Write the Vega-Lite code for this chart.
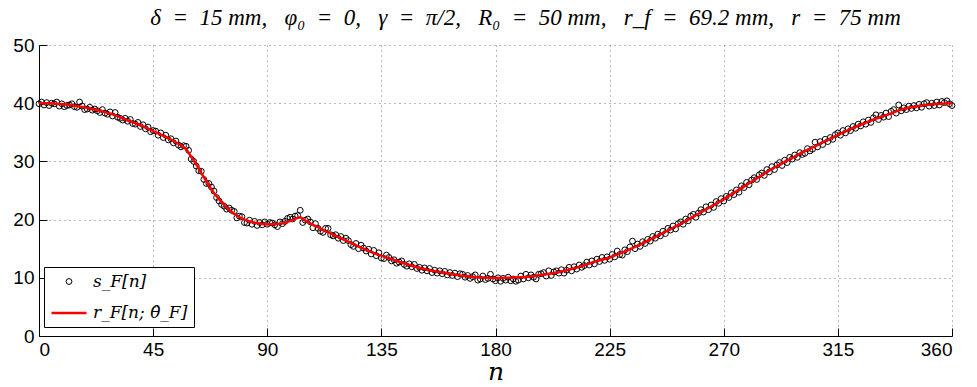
{
  "$schema": "https://vega.github.io/schema/vega-lite/v6.json",
  "autosize": "none",
  "width": 913,
  "height": 291,
  "padding": {"left": 39, "top": 45, "right": 25, "bottom": 51},
  "background": "white",
  "config": {
    "view": {"stroke": null},
    "axis": {
      "labelFont": "Liberation Sans",
      "labelFontSize": 19,
      "labelColor": "black",
      "domainColor": "black",
      "domainWidth": 1,
      "tickColor": "black",
      "tickSize": -8,
      "tickWidth": 1,
      "labelPadding": 12,
      "gridColor": "#777777",
      "gridDash": [1, 4],
      "gridWidth": 1
    }
  },
  "title": {
    "text": "δ\u00a0\u00a0=\u00a0\u00a015 mm,\u00a0\u00a0\u00a0φ₀\u00a0\u00a0=\u00a0\u00a00,\u00a0\u00a0\u00a0γ\u00a0\u00a0=\u00a0\u00a0π/2,\u00a0\u00a0\u00a0R₀\u00a0\u00a0=\u00a0\u00a050 mm,\u00a0\u00a0\u00a0r_f\u00a0\u00a0=\u00a0\u00a069.2 mm,\u00a0\u00a0\u00a0r\u00a0\u00a0=\u00a0\u00a075 mm",
    "font": "Liberation Serif",
    "fontStyle": "italic",
    "fontWeight": "normal",
    "fontSize": 23,
    "color": "black",
    "anchor": "middle",
    "dx": 30,
    "offset": 6
  },
  "data": {
    "values": [
      {"n":0,"s":39.9,"r":40.0},{"n":1,"s":40.2},{"n":2,"s":39.7,"r":39.99},{"n":3,"s":40.1},{"n":4,"s":39.6,"r":39.96},{"n":5,"s":40.0},{"n":6,"s":39.9,"r":39.93},{"n":7,"s":40.2},{"n":8,"s":39.5,"r":39.87},{"n":9,"s":39.9},
      {"n":10,"s":39.4,"r":39.8},{"n":11,"s":39.6},{"n":12,"s":39.7,"r":39.7},{"n":13,"s":39.9},{"n":14,"s":39.4,"r":39.57},{"n":15,"s":39.3},{"n":16,"s":40.2,"r":39.43},{"n":17,"s":39.5},{"n":18,"s":38.9,"r":39.27},{"n":19,"s":39.0},
      {"n":20,"s":39.3,"r":39.1},{"n":21,"s":38.8},{"n":22,"s":39.0,"r":38.9},{"n":23,"s":38.7},{"n":24,"s":38.4,"r":38.7},{"n":25,"s":38.9},{"n":26,"s":38.3,"r":38.47},{"n":27,"s":38.1},{"n":28,"s":38.5,"r":38.2},{"n":29,"s":37.8},
      {"n":30,"s":38.4,"r":37.9},{"n":31,"s":37.6},{"n":32,"s":37.4,"r":37.57},{"n":33,"s":37.1},{"n":34,"s":37.4,"r":37.22},{"n":35,"s":36.9},{"n":36,"s":37.2,"r":36.88},{"n":37,"s":36.5},{"n":38,"s":36.4,"r":36.55},{"n":39,"s":36.7},
      {"n":40,"s":36.0,"r":36.2},{"n":41,"s":36.3},{"n":42,"s":35.6,"r":35.8},{"n":43,"s":35.9},{"n":44,"s":35.1,"r":35.4},{"n":45,"s":35.3},{"n":46,"s":35.2,"r":35.0},{"n":47,"s":34.5},{"n":48,"s":34.9,"r":34.6},{"n":49,"s":34.1},
      {"n":50,"s":34.5,"r":34.2},{"n":51,"s":33.7},{"n":52,"s":33.9,"r":33.75},{"n":53,"s":33.2},{"n":54,"s":33.5,"r":33.25},{"n":55,"s":32.8},{"n":56,"s":32.5,"r":32.75},{"n":57,"s":32.7},{"n":58,"s":32.6,"r":32.1},{"n":59,"s":31.9},
      {"n":60,"s":30.4,"r":30.8},{"n":61,"s":30.0},{"n":62,"s":29.2,"r":29.5},{"n":63,"s":28.4},{"n":64,"s":28.3,"r":28.0},{"n":65,"s":26.9},{"n":66,"s":26.2,"r":26.6},{"n":67,"s":26.2},{"n":68,"s":25.6,"r":25.2},{"n":69,"s":24.9},
      {"n":70,"s":23.8,"r":24.0},{"n":71,"s":23.2},{"n":72,"s":22.6,"r":23.0},{"n":73,"s":22.3},{"n":74,"s":21.8,"r":22.1},{"n":75,"s":22.0},{"n":76,"s":21.6,"r":21.3},{"n":77,"s":21.4},{"n":78,"s":20.3,"r":20.7},{"n":79,"s":20.6},
      {"n":80,"s":20.5,"r":20.2},{"n":81,"s":19.5},{"n":82,"s":19.4,"r":19.85},{"n":83,"s":19.9},{"n":84,"s":19.2,"r":19.6},{"n":85,"s":19.7},{"n":86,"s":19.0,"r":19.4},{"n":87,"s":19.5},{"n":88,"s":19.1,"r":19.25},{"n":89,"s":19.6},
      {"n":90,"s":19.2,"r":19.2},{"n":91,"s":19.5},{"n":92,"s":19.4,"r":19.2},{"n":93,"s":19.1},{"n":94,"s":18.8,"r":19.25},{"n":95,"s":19.6},{"n":96,"s":19.3,"r":19.35},{"n":97,"s":19.7},{"n":98,"s":20.2,"r":19.6},{"n":99,"s":20.4},
      {"n":100,"s":20.1,"r":19.9},{"n":101,"s":20.6},{"n":102,"s":20.7,"r":20.3},{"n":103,"s":21.6,"r":20.4},{"n":104,"s":19.5,"r":20.1},{"n":105,"s":19.9},{"n":106,"s":20.1,"r":19.6},{"n":107,"s":19.6},{"n":108,"s":18.6,"r":19.1},{"n":109,"s":19.3},
      {"n":110,"s":18.5,"r":18.7},{"n":111,"s":18.0},{"n":112,"s":17.8,"r":18.2},{"n":113,"s":18.5},{"n":114,"s":18.5,"r":17.8},{"n":115,"s":17.4},{"n":116,"s":17.2,"r":17.4},{"n":117,"s":17.4},{"n":118,"s":16.8,"r":17.0},{"n":119,"s":17.1},
      {"n":120,"s":16.4,"r":16.6},{"n":121,"s":16.8},{"n":122,"s":16.4,"r":16.2},{"n":123,"s":15.7},{"n":124,"s":15.4,"r":15.8},{"n":125,"s":15.9},{"n":126,"s":15.0,"r":15.35},{"n":127,"s":15.6},{"n":128,"s":15.1,"r":15.0},{"n":129,"s":14.6},
      {"n":130,"s":14.9,"r":14.6},{"n":131,"s":14.1},{"n":132,"s":14.7,"r":14.25},{"n":133,"s":13.8},{"n":134,"s":14.3,"r":13.95},{"n":135,"s":13.4},{"n":136,"s":13.3,"r":13.65},{"n":137,"s":13.9},{"n":138,"s":13.5,"r":13.35},{"n":139,"s":12.9},
      {"n":140,"s":13.1,"r":13.05},{"n":141,"s":12.5},{"n":142,"s":12.7,"r":12.75},{"n":143,"s":12.9},{"n":144,"s":12.3,"r":12.45},{"n":145,"s":12.0},{"n":146,"s":12.4,"r":12.2},{"n":147,"s":11.9},{"n":148,"s":12.3,"r":11.95},{"n":149,"s":11.6},
      {"n":150,"s":11.8,"r":11.7},{"n":151,"s":11.3},{"n":152,"s":11.7,"r":11.5},{"n":153,"s":11.2},{"n":154,"s":11.6,"r":11.3},{"n":155,"s":10.9},{"n":156,"s":11.3,"r":11.15},{"n":157,"s":10.8},{"n":158,"s":11.2,"r":11.0},{"n":159,"s":10.7},
      {"n":160,"s":11.1,"r":10.85},{"n":161,"s":10.5},{"n":162,"s":10.9,"r":10.7},{"n":163,"s":10.4},{"n":164,"s":10.8,"r":10.55},{"n":165,"s":10.2},{"n":166,"s":10.7,"r":10.4},{"n":167,"s":10.6},{"n":168,"s":10.1,"r":10.3},{"n":169,"s":10.4},
      {"n":170,"s":9.9,"r":10.2},{"n":171,"s":10.2},{"n":172,"s":10.5,"r":10.1},{"n":173,"s":9.6},{"n":174,"s":9.8,"r":10.05},{"n":175,"s":10.3},{"n":176,"s":9.7,"r":10.0},{"n":177,"s":9.9},{"n":178,"s":10.6,"r":9.97},{"n":179,"s":9.8},
      {"n":180,"s":9.5,"r":9.95},{"n":181,"s":10.0},{"n":182,"s":9.4,"r":9.97},{"n":183,"s":9.9},{"n":184,"s":9.6,"r":10.0},{"n":185,"s":10.1},{"n":186,"s":9.5,"r":10.03},{"n":187,"s":9.8},{"n":188,"s":9.4,"r":10.07},{"n":189,"s":9.6},
      {"n":190,"s":10.3,"r":10.1},{"n":191,"s":9.8},{"n":192,"s":10.6,"r":10.15},{"n":193,"s":10.0},{"n":194,"s":10.5,"r":10.25},{"n":195,"s":10.1},{"n":196,"s":9.8,"r":10.35},{"n":197,"s":10.6},{"n":198,"s":10.7,"r":10.5},{"n":199,"s":10.9},
      {"n":200,"s":10.3,"r":10.6},{"n":201,"s":11.2},{"n":202,"s":10.4,"r":10.75},{"n":203,"s":11.0},{"n":204,"s":11.2,"r":10.9},{"n":205,"s":10.8},{"n":206,"s":11.4,"r":11.1},{"n":207,"s":10.8},{"n":208,"s":11.3,"r":11.3},{"n":209,"s":11.8},
      {"n":210,"s":11.2,"r":11.5},{"n":211,"s":11.9},{"n":212,"s":11.5,"r":11.75},{"n":213,"s":12.2},{"n":214,"s":11.8,"r":12.0},{"n":215,"s":12.1},{"n":216,"s":12.7,"r":12.3},{"n":217,"s":12.2},{"n":218,"s":12.9,"r":12.6},{"n":219,"s":12.4},
      {"n":220,"s":13.2,"r":12.9},{"n":221,"s":12.8},{"n":222,"s":13.5,"r":13.1},{"n":223,"s":13.0},{"n":224,"s":13.6,"r":13.35},{"n":225,"s":13.2},{"n":226,"s":14.0,"r":13.65},{"n":227,"s":13.6},{"n":228,"s":14.6,"r":14.0},{"n":229,"s":14.0},
      {"n":230,"s":13.9,"r":14.35},{"n":231,"s":14.8},{"n":232,"s":14.5,"r":14.7},{"n":233,"s":15.3},{"n":234,"s":16.3,"r":15.1},{"n":235,"s":15.0},{"n":236,"s":15.8,"r":15.5},{"n":237,"s":15.4},{"n":238,"s":16.2,"r":15.9},{"n":239,"s":15.9},
      {"n":240,"s":16.6,"r":16.35},{"n":241,"s":16.3},{"n":242,"s":17.1,"r":16.8},{"n":243,"s":16.8},{"n":244,"s":17.5,"r":17.25},{"n":245,"s":17.2},{"n":246,"s":18.0,"r":17.7},{"n":247,"s":17.6},{"n":248,"s":18.5,"r":18.15},{"n":249,"s":18.2},
      {"n":250,"s":18.9,"r":18.6},{"n":251,"s":18.4},{"n":252,"s":19.3,"r":19.05},{"n":253,"s":19.6},{"n":254,"s":19.2,"r":19.5},{"n":255,"s":20.1},{"n":256,"s":19.8,"r":20.0},{"n":257,"s":20.6},{"n":258,"s":20.9,"r":20.5},{"n":259,"s":20.4},
      {"n":260,"s":21.1,"r":21.0},{"n":261,"s":21.7},{"n":262,"s":21.3,"r":21.5},{"n":263,"s":22.2},{"n":264,"s":21.7,"r":22.0},{"n":265,"s":22.5},{"n":266,"s":22.1,"r":22.5},{"n":267,"s":23.1},{"n":268,"s":22.8,"r":23.0},{"n":269,"s":23.6},
      {"n":270,"s":23.2,"r":23.5},{"n":271,"s":24.0},{"n":272,"s":23.8,"r":24.05},{"n":273,"s":24.6},{"n":274,"s":24.3,"r":24.6},{"n":275,"s":25.1},{"n":276,"s":24.7,"r":25.15},{"n":277,"s":25.8},{"n":278,"s":25.5,"r":25.7},{"n":279,"s":26.4},
      {"n":280,"s":26.0,"r":26.25},{"n":281,"s":26.8},{"n":282,"s":27.2,"r":26.8},{"n":283,"s":26.9},{"n":284,"s":27.7,"r":27.35},{"n":285,"s":28.0},{"n":286,"s":27.6,"r":27.9},{"n":287,"s":28.6},{"n":288,"s":28.2,"r":28.45},{"n":289,"s":29.1},
      {"n":290,"s":28.6,"r":28.95},{"n":291,"s":29.4},{"n":292,"s":29.8,"r":29.4},{"n":293,"s":29.3},{"n":294,"s":30.2,"r":29.9},{"n":295,"s":29.8},{"n":296,"s":30.7,"r":30.35},{"n":297,"s":30.4},{"n":298,"s":31.1,"r":30.8},{"n":299,"s":30.7},
      {"n":300,"s":31.5,"r":31.3},{"n":301,"s":31.2},{"n":302,"s":31.4,"r":31.75},{"n":303,"s":32.2},{"n":304,"s":31.8,"r":32.2},{"n":305,"s":32.1},{"n":306,"s":33.3,"r":32.6},{"n":307,"s":32.5},{"n":308,"s":33.4,"r":33.05},{"n":309,"s":32.9},
      {"n":310,"s":33.8,"r":33.5},{"n":311,"s":33.4},{"n":312,"s":34.1,"r":33.9},{"n":313,"s":33.8},{"n":314,"s":34.6,"r":34.35},{"n":315,"s":34.9},{"n":316,"s":34.5,"r":34.75},{"n":317,"s":35.3},{"n":318,"s":34.9,"r":35.15},{"n":319,"s":35.6},
      {"n":320,"s":35.3,"r":35.55},{"n":321,"s":36.0},{"n":322,"s":35.7,"r":35.95},{"n":323,"s":36.4},{"n":324,"s":36.1,"r":36.3},{"n":325,"s":36.8},{"n":326,"s":36.4,"r":36.65},{"n":327,"s":37.1},{"n":328,"s":36.7,"r":37.0},{"n":329,"s":37.5},
      {"n":330,"s":38.0,"r":37.35},{"n":331,"s":37.2},{"n":332,"s":37.9,"r":37.65},{"n":333,"s":37.6},{"n":334,"s":38.3,"r":37.95},{"n":335,"s":37.7},{"n":336,"s":38.6,"r":38.25},{"n":337,"s":38.9},{"n":338,"s":38.3,"r":38.6},{"n":339,"s":39.7},
      {"n":340,"s":38.7,"r":38.9},{"n":341,"s":39.2},{"n":342,"s":38.9,"r":39.1},{"n":343,"s":39.5},{"n":344,"s":39.1,"r":39.3},{"n":345,"s":39.6},{"n":346,"s":39.2,"r":39.45},{"n":347,"s":39.8},{"n":348,"s":39.3,"r":39.6},{"n":349,"s":39.9},
      {"n":350,"s":40.1,"r":39.7},{"n":351,"s":39.5},{"n":352,"s":40.0,"r":39.8},{"n":353,"s":39.6},{"n":354,"s":40.2,"r":39.85},{"n":355,"s":39.7},{"n":356,"s":40.3,"r":39.9},{"n":357,"s":40.1},{"n":358,"s":40.4,"r":39.95},{"n":359,"s":39.9},
      {"n":360,"s":39.6,"r":40.0}
    ]
  },
  "encoding": {
    "x": {
      "field": "n",
      "type": "quantitative",
      "scale": {"domain": [0, 360], "nice": false, "zero": false},
      "axis": {
        "values": [0, 45, 90, 135, 180, 225, 270, 315, 360],
        "title": "n",
        "titleFont": "DejaVu Serif",
        "titleFontStyle": "italic",
        "titleFontWeight": "normal",
        "titleFontSize": 25,
        "titleColor": "black",
        "titlePadding": 0,
        "grid": true
      }
    }
  },
  "layer": [
    {
      "mark": {"type": "point", "filled": false, "opacity": 1},
      "encoding": {
        "y": {
          "field": "s",
          "type": "quantitative",
          "scale": {"domain": [0, 50], "nice": false},
          "axis": {"values": [0, 10, 20, 30, 40, 50], "title": null, "grid": true, "labelPadding": 13}
        },
        "color": {
          "datum": "s_F[n]",
          "type": "nominal",
          "scale": {"domain": ["s_F[n]", "r_F[n; θ̂_F]"], "range": ["black", "#ff0000"]},
          "legend": {
            "title": null,
            "orient": "none",
            "legendX": 5,
            "legendY": 222,
            "direction": "vertical",
            "strokeColor": "black",
            "fillColor": "white",
            "padding": 6,
            "cornerRadius": 0,
            "labelFont": "DejaVu Serif",
            "labelFontStyle": "italic",
            "labelFontSize": 17,
            "labelColor": "black",
            "labelOffset": 5,
            "rowPadding": 4
          }
        },
        "shape": {
          "datum": "s_F[n]",
          "type": "nominal",
          "scale": {"domain": ["s_F[n]", "r_F[n; θ̂_F]"], "range": ["circle", "stroke"]},
          "legend": {"title": null}
        },
        "size": {
          "datum": "s_F[n]",
          "type": "nominal",
          "scale": {"domain": ["s_F[n]", "r_F[n; θ̂_F]"], "range": [34, 1225]},
          "legend": {"title": null}
        },
        "strokeWidth": {
          "datum": "s_F[n]",
          "type": "nominal",
          "scale": {"domain": ["s_F[n]", "r_F[n; θ̂_F]"], "range": [1, 2.5]},
          "legend": {"title": null}
        }
      }
    },
    {
      "transform": [{"filter": "isValid(datum.r)"}],
      "mark": {"type": "line", "interpolate": "monotone"},
      "encoding": {
        "y": {"field": "r", "type": "quantitative"},
        "color": {"datum": "r_F[n; θ̂_F]", "type": "nominal"},
        "strokeWidth": {"datum": "r_F[n; θ̂_F]", "type": "nominal"}
      }
    }
  ]
}
